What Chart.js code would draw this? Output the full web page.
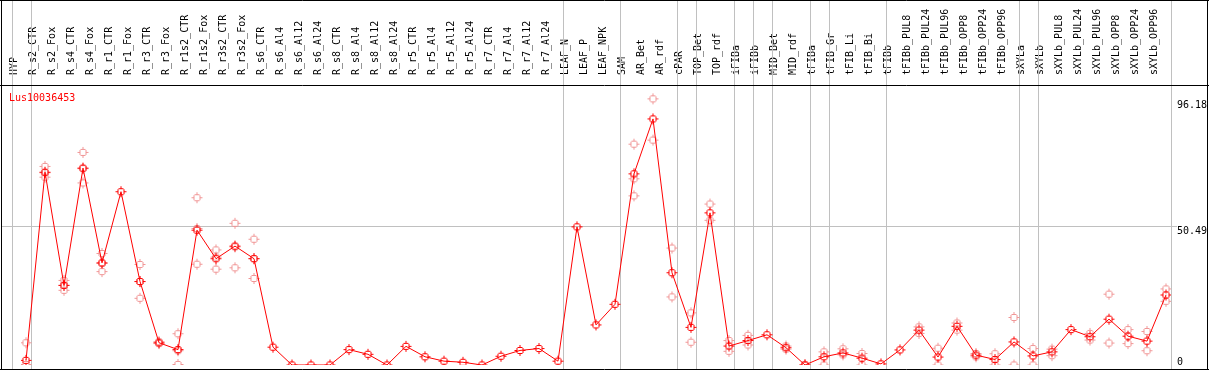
<!DOCTYPE html>
<html>
<head>
<meta charset="utf-8">
<script src="https://cdn.jsdelivr.net/npm/chart.js@4"></script>
<style>
  body { margin: 0; background: #fff; }
  canvas { display: block; }
</style>
</head>
<body>
<canvas id="expr" width="1209" height="370"></canvas>
<script>
var geneName = 'Lus10036453';

var samples = ['HYP', 'R_s2_CTR', 'R_s2_Fox', 'R_s4_CTR', 'R_s4_Fox', 'R_r1_CTR', 'R_r1_Fox', 'R_r3_CTR', 'R_r3_Fox',
    'R_r1s2_CTR', 'R_r1s2_Fox', 'R_r3s2_CTR', 'R_r3s2_Fox', 'R_s6_CTR', 'R_s6_Al4', 'R_s6_Al12', 'R_s6_Al24',
    'R_s8_CTR', 'R_s8_Al4', 'R_s8_Al12', 'R_s8_Al24', 'R_r5_CTR', 'R_r5_Al4', 'R_r5_Al12', 'R_r5_Al24',
    'R_r7_CTR', 'R_r7_Al4', 'R_r7_Al12', 'R_r7_Al24', 'LEAF_N', 'LEAF_P', 'LEAF_NPK', 'SAM', 'AR_Bet', 'AR_rdf',
    'cPAR', 'TOP_Bet', 'TOP_rdf', 'iFIBa', 'iFIBb', 'MID_Bet', 'MID_rdf', 'tFIBa', 'tFIB_Gr', 'tFIB_Li', 'tFIB_Bi',
    'tFIBb', 'tFIBb_PUL8', 'tFIBb_PUL24', 'tFIBb_PUL96', 'tFIBb_OPP8', 'tFIBb_OPP24', 'tFIBb_OPP96',
    'sXYLa', 'sXYLb', 'sXYLb_PUL8', 'sXYLb_PUL24', 'sXYLb_PUL96', 'sXYLb_OPP8', 'sXYLb_OPP24', 'sXYLb_OPP96'];

// mean expression
var means = [1.7, 70.2, 29.0, 71.7, 37.2, 63.1, 30.4, 8.1, 5.6,
    49.1, 38.7, 43.3, 38.7, 6.5, 0, 0, 0,
    5.6, 3.9, 0, 6.8, 3.0, 1.4, 1.0, 0,
    3.2, 5.3, 6.0, 1.4, 50.3, 14.6, 22.1, 69.6, 89.6, 33.6,
    13.7, 55.4, 6.9, 8.9, 11.0, 6.3, 0, 3.0, 4.4, 2.5, 0.4,
    5.5, 12.7, 2.9, 14.1, 3.6, 2.0, 8.4,
    3.3, 4.8, 12.9, 10.3, 16.7, 10.5, 8.7, 25.5];

// replicates
var rep1 = [8.1, 72.3, 30.8, 77.4, 40.6, null, 36.6, 8.5, 11.4,
    60.9, 41.9, 51.6, 45.8, null, null, null, null,
    null, null, null, null, null, null, null, null,
    null, null, null, null, null, null, null, 80.4, 96.9, 42.6,
    19.0, 58.6, 8.9, 10.8, null, 6.9, 0, 4.8, 5.9, 4.2, null,
    null, 13.9, 6.1, 15.3, 4.2, 4.1, 17.3,
    6.0, 5.8, null, 11.5, 25.8, 12.9, 12.2, 27.7];
var rep2 = [0.2, 68.4, 27.2, 66.3, 34.0, null, 24.3, 7.8, 0.2,
    36.7, 34.9, 35.4, 31.5, null, null, null, null,
    null, null, null, null, null, null, null, null,
    null, null, null, null, null, null, null, 67.8, 81.9, 24.8,
    8.3, 52.7, 5.0, 7.3, null, 5.8, 0, 0, 3.7, 0, null,
    null, 11.5, 0, 12.7, 3.0, 0, 0,
    0, 3.4, null, 9.1, 8.0, 7.8, 5.2, 23.2];
var rep3 = [null, 70.0, 29.0, 71.5, 37.0, null, 30.4, null, 5.2,
    49.7, 39.3, 43.0, 38.8, null, null, null, null,
    null, null, null, null, null, null, null, null,
    null, null, null, null, null, null, null, 61.6, null, null,
    null, null, null, null, null, null, null, null, null, null, null,
    null, null, null, null, null, null, null,
    null, null, null, null, null, null, null, null];

var axisLabels = [96.18, 50.49, 0];
var gridValues = [50.49];
var groupEnds = [-1, 0, 28, 31, 34, 35, 37, 38, 39, 41, 42, 45, 52, 53, 60];

// pixel ring with four one-pixel ticks
function makeMarker(color) {
    var c = document.createElement('canvas');
    c.width = 13;
    c.height = 13;
    var g = c.getContext('2d');
    g.fillStyle = color;
    for (var py = 0; py < 13; py++) {
        for (var px = 0; px < 13; px++) {
            var d = Math.sqrt((px - 6) * (px - 6) + (py - 6) * (py - 6));
            if (d >= 2.9 && d <= 4.1) {
                g.fillRect(px, py, 1, 1);
            }
        }
    }
    g.fillRect(6, 1, 1, 1);
    g.fillRect(6, 11, 1, 1);
    g.fillRect(1, 6, 1, 1);
    g.fillRect(11, 6, 1, 1);
    return c;
}

var mainMarker = makeMarker('#ff0000');
var repMarker = makeMarker('rgb(240,150,150)');

var frame = {
    id: 'frame',
    beforeDatasetsDraw: function (chart) {
        var ctx = chart.ctx;
        var x = chart.scales.x;
        var y = chart.scales.y;
        ctx.save();
        ctx.strokeStyle = '#c0c0c0';
        ctx.lineWidth = 1;
        groupEnds.forEach(function (i) {
            var px = Math.round(x.getPixelForValue(0) + 19 * i + 4.5) + 0.5;
            ctx.beginPath();
            ctx.moveTo(px, 0);
            ctx.lineTo(px, 370);
            ctx.stroke();
        });
        gridValues.forEach(function (v) {
            var py = Math.round(y.getPixelForValue(v)) + 0.5;
            ctx.beginPath();
            ctx.moveTo(1, py);
            ctx.lineTo(1177, py);
            ctx.stroke();
        });
        ctx.restore();
    },
    afterDraw: function (chart) {
        var ctx = chart.ctx;
        var y = chart.scales.y;
        ctx.save();
        ctx.strokeStyle = '#000';
        ctx.lineWidth = 1;
        ctx.beginPath();
        ctx.moveTo(0, 0.5); ctx.lineTo(1209, 0.5);
        ctx.moveTo(0, 85.5); ctx.lineTo(1209, 85.5);
        ctx.moveTo(0, 369.5); ctx.lineTo(1209, 369.5);
        ctx.moveTo(1.5, 0); ctx.lineTo(1.5, 370);
        ctx.moveTo(1207.5, 0); ctx.lineTo(1207.5, 370);
        ctx.stroke();

        ctx.font = '10px "DejaVu Sans Mono"';
        ctx.fillStyle = '#ff0000';
        ctx.textBaseline = 'middle';
        ctx.textAlign = 'left';
        ctx.fillText(geneName, 9, 98);

        ctx.fillStyle = '#000';
        ctx.textBaseline = 'top';
        axisLabels.forEach(function (v) {
            var py = Math.min(y.getPixelForValue(v), 357);
            ctx.fillText(String(v), 1177, py);
        });
        ctx.restore();
    }
};

new Chart(document.getElementById('expr'), {
    type: 'line',
    data: {
        labels: samples,
        datasets: [
            {
                label: geneName,
                data: means,
                borderColor: '#ff0000',
                borderWidth: 1,
                tension: 0,
                pointStyle: mainMarker,
                pointRadius: 4
            },
            {label: 'rep1', data: rep1, showLine: false, pointStyle: repMarker},
            {label: 'rep2', data: rep2, showLine: false, pointStyle: repMarker},
            {label: 'rep3', data: rep3, showLine: false, pointStyle: repMarker}
        ]
    },
    options: {
        responsive: false,
        animation: false,
        layout: {
            padding: {left: 26, right: 43, top: 0, bottom: 1}
        },
        scales: {
            x: {
                type: 'category',
                position: 'top',
                offset: false,
                grid: {display: false},
                border: {display: false},
                ticks: {
                    autoSkip: false,
                    minRotation: 90,
                    maxRotation: 90,
                    padding: 2,
                    color: '#000',
                    font: {family: 'DejaVu Sans Mono', size: 10}
                },
                afterFit: function (scale) {
                    scale.height = 85;
                }
            },
            y: {
                display: false,
                min: 0,
                max: 101.95
            }
        },
        plugins: {
            legend: {display: false},
            tooltip: {enabled: false}
        }
    },
    plugins: [frame]
});
</script>
</body>
</html>
